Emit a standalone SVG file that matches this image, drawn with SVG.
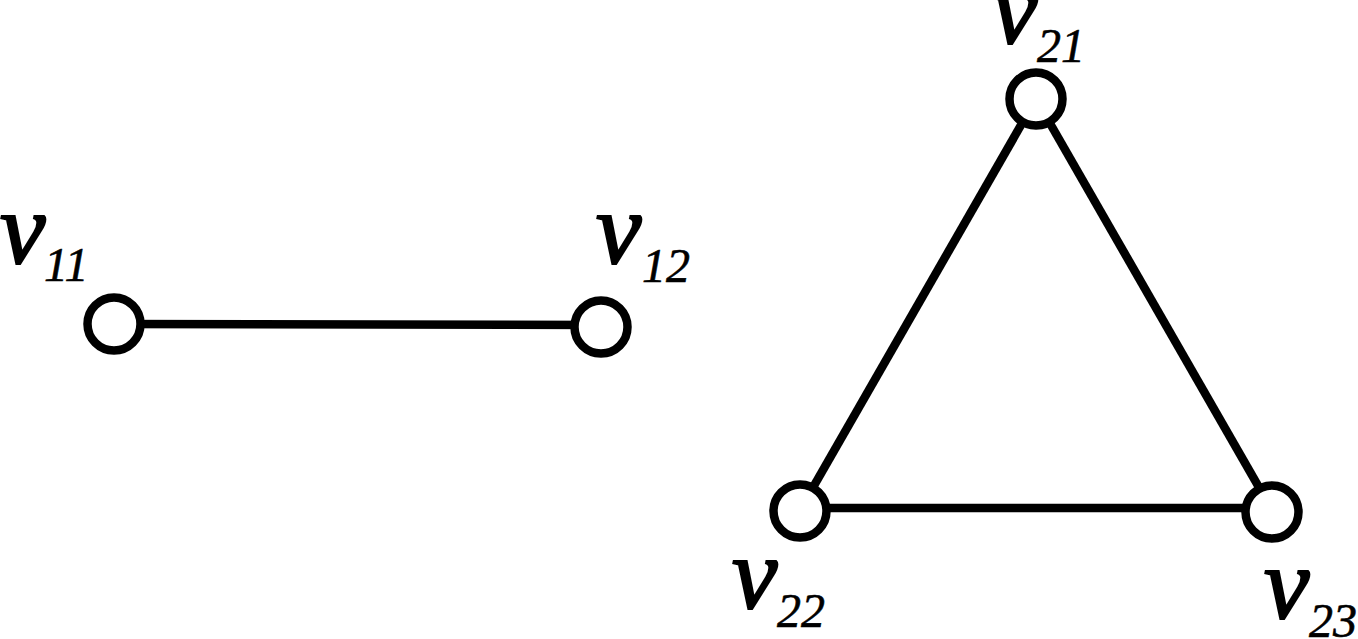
<svg xmlns="http://www.w3.org/2000/svg" width="1358" height="639" viewBox="0 0 1358 639">
<style>
.edge{stroke:#000;stroke-width:8.5;fill:none}
.node{fill:#fff;stroke:#000;stroke-width:8.5}
.v{font-family:"Liberation Serif","Times New Roman",serif;font-style:italic;font-size:102px;fill:#000;stroke:#000;stroke-width:2.2}
.s{font-family:"Liberation Serif","Times New Roman",serif;font-style:italic;font-size:48px;fill:#000;stroke:#000;stroke-width:0.6}
</style>
<rect width="1358" height="639" fill="#fff"/>
<g id="connectors">
<line class="edge" x1="114" y1="324" x2="601" y2="325"/>
<line class="edge" x1="1036" y1="99" x2="800" y2="510"/>
<line class="edge" x1="1036" y1="99" x2="1272" y2="510"/>
<line class="edge" x1="800" y1="508" x2="1272" y2="508"/>
</g>
<g id="v11"><circle class="node" cx="114" cy="324" r="26.5"/><text class="v" x="0" y="263">v</text><text class="s" x="44" y="281">11</text></g>
<g id="v12"><circle class="node" cx="601" cy="327" r="26.5"/><text class="v" x="596" y="263">v</text><text class="s" x="642" y="282">12</text></g>
<g id="v21"><circle class="node" cx="1036" cy="99" r="26.5"/><text class="v" x="992" y="43">v</text><text class="s" x="1037" y="62">21</text></g>
<g id="v22"><circle class="node" cx="800" cy="511" r="26.5"/><text class="v" x="732" y="608">v</text><text class="s" x="777" y="627">22</text></g>
<g id="v23"><circle class="node" cx="1272" cy="512" r="26.5"/><text class="v" x="1264" y="618">v</text><text class="s" x="1309" y="637">23</text></g>
</svg>
